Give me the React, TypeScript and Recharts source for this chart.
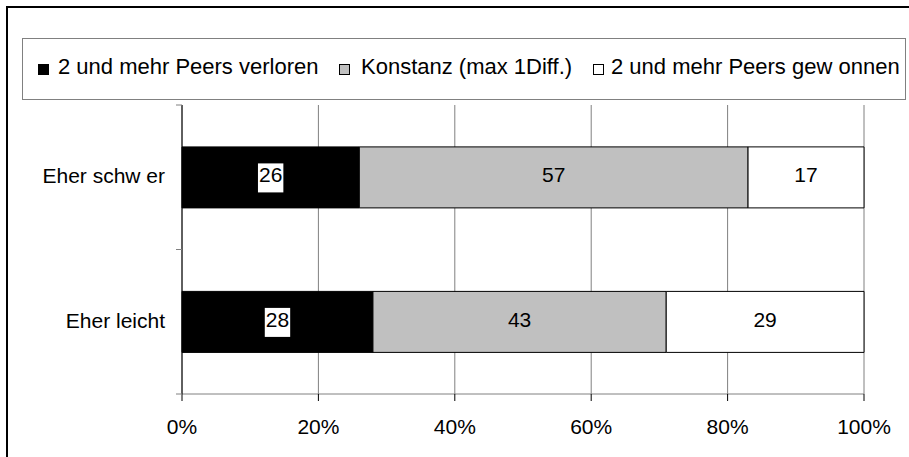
import { BarChart, Bar, XAxis, YAxis, CartesianGrid, Legend, LabelList } from 'recharts';

// data
const categories = ['Eher schw er', 'Eher leicht'];
const verloren = [26, 28];
const konstanz = [57, 43];
const gewonnen = [17, 29];
const seriesNames = ['2 und mehr Peers verloren', 'Konstanz (max 1Diff.)', '2 und mehr Peers gew onnen'];
const xTicks = [0, 20, 40, 60, 80, 100];

const data = categories.map((name, i) => ({
  name,
  verloren: verloren[i],
  konstanz: konstanz[i],
  gewonnen: gewonnen[i],
}));

const FONT = "'Liberation Sans', Arial, sans-serif";
const PLOT_TOP = 105;
const PLOT_BOTTOM = 394;
const HALF_BAND = (PLOT_BOTTOM - PLOT_TOP) / categories.length / 2;

// legend item offsets inside the legend box
const legendPos = [
  { box: 15, text: 35 },
  { box: 316, text: 338 },
  { box: 570, text: 588 },
];

const CategoryTick = ({ x, y, payload }: any) => (
  <g>
    <line x1={x - 6} x2={x} y1={y - HALF_BAND} y2={y - HALF_BAND} stroke="#808080" />
    <line x1={x - 6} x2={x} y1={y + HALF_BAND} y2={y + HALF_BAND} stroke="#808080" />
    <text x={x - 17} y={y + 6} textAnchor="end" fontSize={21} fontFamily={FONT} fill="#000">
      {payload.value}
    </text>
  </g>
);

const makeLabel = (boxed: boolean) => (props: any) => {
  const { x, y, width, height, value } = props;
  const cx = x + width / 2;
  const cy = y + height / 2;
  const w = String(value).length * 11.7 + 2;
  return (
    <g>
      {boxed && <rect x={cx - w / 2} y={cy - 14} width={w} height={29} fill="#fff" />}
      <text x={cx} y={cy + 5} textAnchor="middle" fontSize={21} fontFamily={FONT} fill="#000">
        {value}
      </text>
    </g>
  );
};

const renderLegend = ({ payload }: any) => {
  // keep the series order, not the sorted one
  const items = seriesNames
    .map((n) => (payload || []).find((p: any) => p.value === n))
    .filter(Boolean);
  return (
    <div
      style={{
        position: 'relative',
        width: 884,
        height: 62,
        border: '1px solid #808080',
        boxSizing: 'border-box',
        background: '#fff',
        fontFamily: FONT,
        fontSize: 22,
        color: '#000',
      }}
    >
      {items.map((entry: any, i: number) => (
        <div key={i}>
          <div
            style={{
              position: 'absolute',
              left: legendPos[i].box,
              top: 25,
              width: 11,
              height: 11,
              boxSizing: 'border-box',
              border: '1px solid #000',
              background: entry.color,
            }}
          />
          <span style={{ position: 'absolute', left: legendPos[i].text, top: 15, lineHeight: '25px', whiteSpace: 'nowrap' }}>
            {entry.value}
          </span>
        </div>
      ))}
    </div>
  );
};

export default function App() {
  return (
    <div style={{ position: 'absolute', left: 0, top: 0, width: 909, height: 457, overflow: 'hidden', background: '#fff' }}>
      <div
        style={{
          position: 'absolute',
          left: 6,
          top: 6,
          width: 960,
          height: 520,
          border: '2px solid #000',
          boxSizing: 'border-box',
        }}
      />
      <BarChart
        width={909}
        height={457}
        data={data}
        layout="vertical"
        barCategoryGap="29%"
        margin={{ top: PLOT_TOP, right: 45, bottom: 23, left: 0 }}
      >
        <CartesianGrid horizontal={false} stroke="#808080" />
        <XAxis
          type="number"
          domain={[0, 100]}
          ticks={xTicks}
          interval={0}
          tickFormatter={(v) => `${v}%`}
          axisLine={{ stroke: '#808080' }}
          tickLine={{ stroke: '#000' }}
          tickSize={7}
          tickMargin={18}
          height={40}
          tick={{ fontSize: 21, fontFamily: FONT, fill: '#000' }}
        />
        <YAxis
          type="category"
          dataKey="name"
          width={182}
          interval={0}
          tickSize={0}
          tickMargin={0}
          tickLine={false}
          axisLine={{ stroke: '#000' }}
          tick={<CategoryTick />}
        />
        <Legend
          layout="horizontal"
          verticalAlign="middle"
          align="center"
          wrapperStyle={{ top: 38, left: 22, width: 884, height: 62 }}
          content={renderLegend}
        />
        <Bar dataKey="verloren" name={seriesNames[0]} stackId="a" fill="#000" stroke="#000" isAnimationActive={false}>
          <LabelList dataKey="verloren" content={makeLabel(true)} />
        </Bar>
        <Bar dataKey="konstanz" name={seriesNames[1]} stackId="a" fill="#C0C0C0" stroke="#000" isAnimationActive={false}>
          <LabelList dataKey="konstanz" content={makeLabel(false)} />
        </Bar>
        <Bar dataKey="gewonnen" name={seriesNames[2]} stackId="a" fill="#FFFFFF" stroke="#000" isAnimationActive={false}>
          <LabelList dataKey="gewonnen" content={makeLabel(false)} />
        </Bar>
      </BarChart>
    </div>
  );
}
